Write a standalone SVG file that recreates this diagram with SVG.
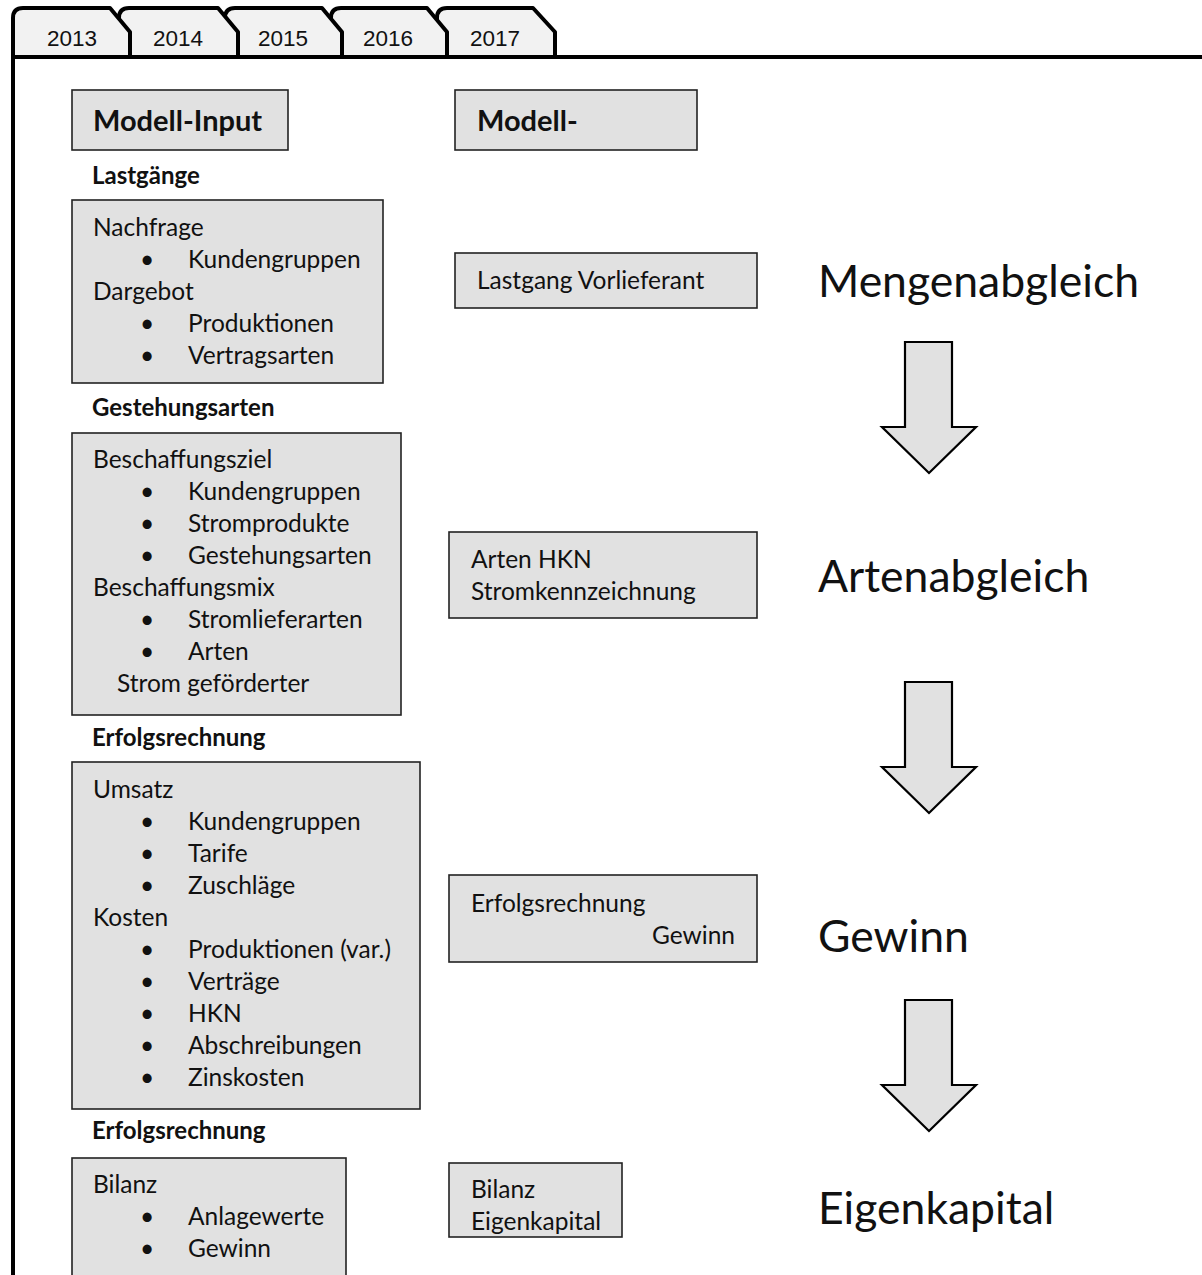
<svg xmlns="http://www.w3.org/2000/svg" width="1202" height="1275" viewBox="0 0 1202 1275">
<style>
.tab{fill:#f2f2f2;stroke:#000;stroke-width:4;stroke-linejoin:round}
.tabt{font-family:"Liberation Sans",Arial,sans-serif;font-size:22.5px;fill:#111;text-anchor:middle}
.box{fill:#e1e1e1;stroke:#222;stroke-width:1.6}
.t{font-family:Lato,"Noto Sans",sans-serif;font-size:24.5px;fill:#111}
.h{font-family:Lato,"Noto Sans",sans-serif;font-size:24px;font-weight:bold;fill:#111}
.hb{font-family:Lato,"Noto Sans",sans-serif;font-size:29px;font-weight:bold;fill:#111}
.big{font-family:Lato,"Noto Sans",sans-serif;font-size:44.5px;fill:#111}
.arr{fill:#e1e1e1;stroke:#000;stroke-width:2.2;stroke-linejoin:miter}
</style>
<rect width="1202" height="1275" fill="#fff"/>
<g id="tabs">
<path class="tab" d="M437,57 V18 Q437,8 447,8 H533 L555,32 V57"/>
<path class="tab" d="M331,57 V18 Q331,8 341,8 H427 L447,32 V57"/>
<path class="tab" d="M225,57 V18 Q225,8 235,8 H322 L342,32 V57"/>
<path class="tab" d="M119,57 V18 Q119,8 129,8 H218 L238,32 V57"/>
<path class="tab" d="M13,57 V18 Q13,8 23,8 H110 L130,32 V57"/>
<text class="tabt" x="72" y="46">2013</text>
<text class="tabt" x="178" y="46">2014</text>
<text class="tabt" x="283" y="46">2015</text>
<text class="tabt" x="388" y="46">2016</text>
<text class="tabt" x="495" y="46">2017</text>
</g>
<g id="frame">
<path d="M13,1275 V57 H1202" fill="none" stroke="#000" stroke-width="4"/>
</g>
<g id="header-input">
<rect class="box" x="72" y="90" width="216" height="60"/>
<text class="hb" x="93" y="131">Modell-Input</text>
</g>
<g id="header-output">
<rect class="box" x="455" y="90" width="242" height="60"/>
<text class="hb" x="477" y="131">Modell-</text>
</g>
<g id="lastgaenge">
<text class="h" x="92" y="184">Lastgänge</text>
<rect class="box" x="72" y="200" width="311" height="183"/>
<text class="t" x="93" y="236">Nachfrage</text>
<text class="t" x="140" y="268">•</text><text class="t" x="188" y="268">Kundengruppen</text>
<text class="t" x="93" y="300">Dargebot</text>
<text class="t" x="140" y="332">•</text><text class="t" x="188" y="332">Produktionen</text>
<text class="t" x="140" y="364">•</text><text class="t" x="188" y="364">Vertragsarten</text>
</g>
<g id="gestehungsarten">
<text class="h" x="92" y="416">Gestehungsarten</text>
<rect class="box" x="72" y="433" width="329" height="282"/>
<text class="t" x="93" y="468">Beschaffungsziel</text>
<text class="t" x="140" y="500">•</text><text class="t" x="188" y="500">Kundengruppen</text>
<text class="t" x="140" y="532">•</text><text class="t" x="188" y="532">Stromprodukte</text>
<text class="t" x="140" y="564">•</text><text class="t" x="188" y="564">Gestehungsarten</text>
<text class="t" x="93" y="596">Beschaffungsmix</text>
<text class="t" x="140" y="628">•</text><text class="t" x="188" y="628">Stromlieferarten</text>
<text class="t" x="140" y="660">•</text><text class="t" x="188" y="660">Arten</text>
<text class="t" x="117" y="692">Strom geförderter</text>
</g>
<g id="erfolgsrechnung">
<text class="h" x="92" y="746">Erfolgsrechnung</text>
<rect class="box" x="72" y="762" width="348" height="347"/>
<text class="t" x="93" y="798">Umsatz</text>
<text class="t" x="140" y="830">•</text><text class="t" x="188" y="830">Kundengruppen</text>
<text class="t" x="140" y="862">•</text><text class="t" x="188" y="862">Tarife</text>
<text class="t" x="140" y="894">•</text><text class="t" x="188" y="894">Zuschläge</text>
<text class="t" x="93" y="926">Kosten</text>
<text class="t" x="140" y="958">•</text><text class="t" x="188" y="958">Produktionen (var.)</text>
<text class="t" x="140" y="990">•</text><text class="t" x="188" y="990">Verträge</text>
<text class="t" x="140" y="1022">•</text><text class="t" x="188" y="1022">HKN</text>
<text class="t" x="140" y="1054">•</text><text class="t" x="188" y="1054">Abschreibungen</text>
<text class="t" x="140" y="1086">•</text><text class="t" x="188" y="1086">Zinskosten</text>
</g>
<g id="bilanz">
<text class="h" x="92" y="1139">Erfolgsrechnung</text>
<rect class="box" x="72" y="1158" width="274" height="125"/>
<text class="t" x="93" y="1193">Bilanz</text>
<text class="t" x="140" y="1225">•</text><text class="t" x="188" y="1225">Anlagewerte</text>
<text class="t" x="140" y="1257">•</text><text class="t" x="188" y="1257">Gewinn</text>
</g>
<g id="out-lastgang">
<rect class="box" x="455" y="253" width="302" height="55"/>
<text class="t" x="477" y="289">Lastgang Vorlieferant</text>
</g>
<g id="out-arten">
<rect class="box" x="449" y="532" width="308" height="86"/>
<text class="t" x="471" y="568">Arten HKN</text>
<text class="t" x="471" y="600">Stromkennzeichnung</text>
</g>
<g id="out-erfolg">
<rect class="box" x="449" y="875" width="308" height="87"/>
<text class="t" x="471" y="912">Erfolgsrechnung</text>
<text class="t" x="735" y="944" text-anchor="end">Gewinn</text>
</g>
<g id="out-bilanz">
<rect class="box" x="449" y="1163" width="173" height="74"/>
<text class="t" x="471" y="1198">Bilanz</text>
<text class="t" x="471" y="1230">Eigenkapital</text>
</g>
<g id="stages">
<text class="big" x="818" y="297">Mengenabgleich</text>
<text class="big" x="818" y="592">Artenabgleich</text>
<text class="big" x="818" y="952">Gewinn</text>
<text class="big" x="818" y="1224">Eigenkapital</text>
</g>
<g id="connectors">
<path class="arr" d="M905,342 H952 V427 H976 L929,473 L882,427 H905 Z"/>
<path class="arr" d="M905,682 H952 V767 H976 L929,813 L882,767 H905 Z"/>
<path class="arr" d="M905,1000 H952 V1085 H976 L929,1131 L882,1085 H905 Z"/>
</g>
</svg>
